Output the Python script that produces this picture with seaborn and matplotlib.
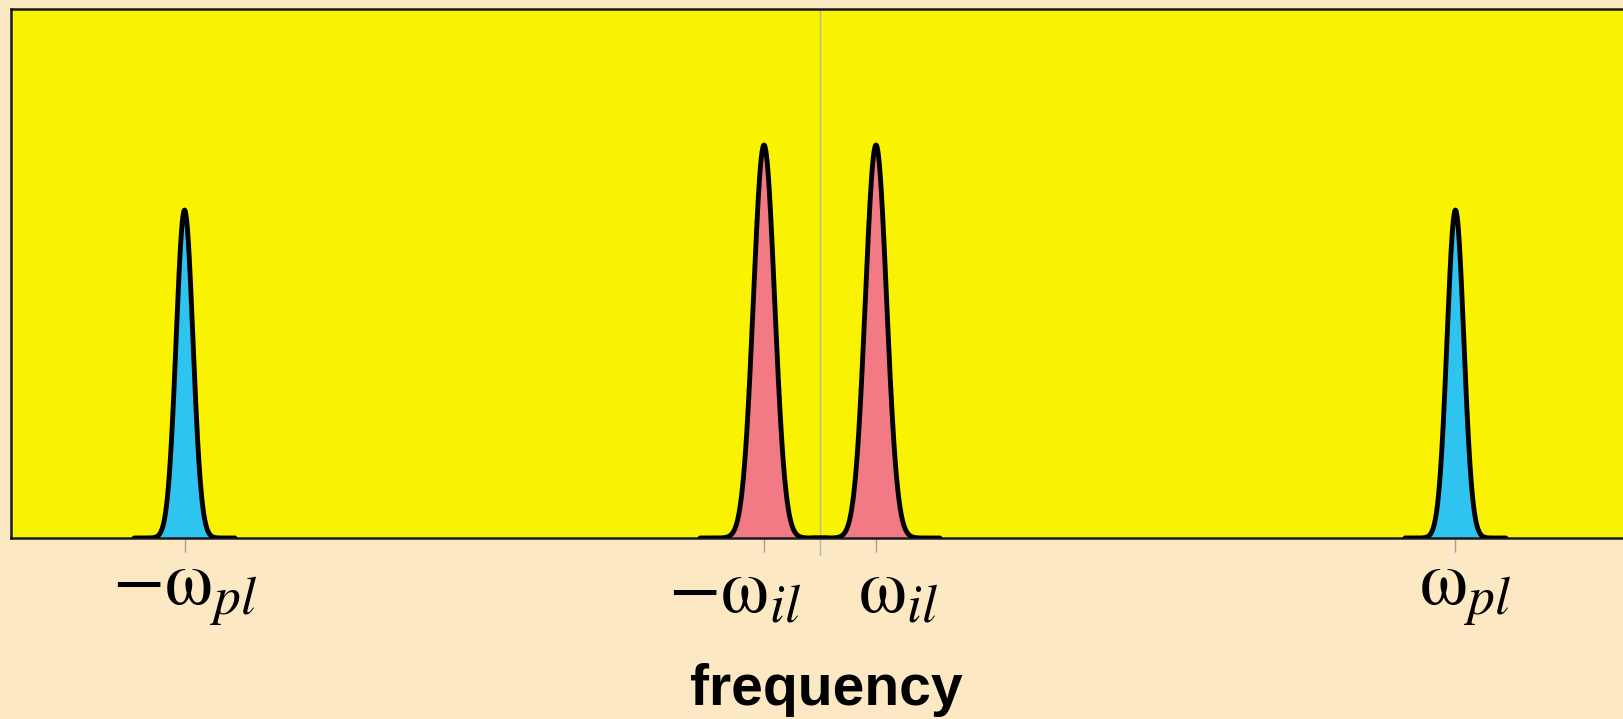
import numpy as np
import pandas as pd
import matplotlib
matplotlib.use('Agg')
import matplotlib.pyplot as plt
import matplotlib.transforms as mtransforms
import seaborn as sns

# peaks (x in units of omega_il, y as fraction of axes)
peak_names = ['-pl', '-il', 'il', 'pl']
peak_centers = [-11.35, -1.0, 1.0, 11.35]
peak_heights = [0.62, 0.743, 0.743, 0.62]
peak_sigmas = [0.15, 0.19, 0.19, 0.15]
peak_colors = ['#2ec4ef', '#f17a85', '#f17a85', '#2ec4ef']
tick_labels = [r'$-\mathrm{\omega}_{pl}$', r'$-\mathrm{\omega}_{il}$',
               r'$\mathrm{\omega}_{il}$', r'$\mathrm{\omega}_{pl}$']

sns.set_style('white')
plt.rcParams['font.family'] = ['Liberation Sans', 'DejaVu Sans']
plt.rcParams['mathtext.fontset'] = 'stix'

BG = '#fde8c4'
fig = plt.figure(figsize=(16.23, 7.19), dpi=100, facecolor=BG)
ax = fig.add_axes([11 / 1623, 1 - 538 / 719, 1618 / 1623, 529 / 719])
ax.set_facecolor('#f9f200')

rows = []
for name, c, h, s in zip(peak_names, peak_centers, peak_heights, peak_sigmas):
    x = np.linspace(c - 6 * s, c + 6 * s, 300)
    y = h * np.exp(-0.5 * ((x - c) / s) ** 2)
    rows.append(pd.DataFrame({'x': x, 'y': y, 'peak': name}))
df = pd.concat(rows, ignore_index=True)

for name, col in zip(peak_names, peak_colors):
    d = df[df['peak'] == name]
    ax.fill_between(d['x'], 0, d['y'], color=col, lw=0, zorder=2)
sns.lineplot(data=df, x='x', y='y', units='peak', estimator=None,
             color='black', lw=3.5, ax=ax, zorder=3, sort=False)

# vertical axis line at zero, running a little below the frame
ax.axvline(0, ymin=-0.033, ymax=1, color='#b8b8a8', lw=1, clip_on=False, zorder=1)

ax.set_xlim(-14.45, 14.45)
ax.set_ylim(0, 1)
ax.set_yticks([])
ax.set_xticks(peak_centers)
ax.set_xticklabels(tick_labels, fontsize=55, color='black')
ax.tick_params(axis='x', direction='out', length=10, width=1, color='#a0a0a0',
               pad=4, bottom=True)
ax.set_xlabel('')
ax.set_ylabel('')

# inner labels are pushed apart so they do not touch
nudge = [0, -30, 22, 10]
for lab, dx in zip(ax.get_xticklabels(), nudge):
    lab.set_transform(lab.get_transform() +
                      mtransforms.ScaledTranslation(dx / 100, 0, fig.dpi_scale_trans))

fig.text(826 / 1623, 1 - 690 / 719, 'frequency', fontsize=41, fontweight='bold',
         color='black', ha='center', va='center')

for side in ['left', 'top', 'bottom']:
    ax.spines[side].set_visible(True)
    ax.spines[side].set_color('#1a1a1a')
    ax.spines[side].set_linewidth(1.8)
ax.spines['right'].set_visible(False)

fig.savefig('out.png', dpi=100, facecolor=BG)
